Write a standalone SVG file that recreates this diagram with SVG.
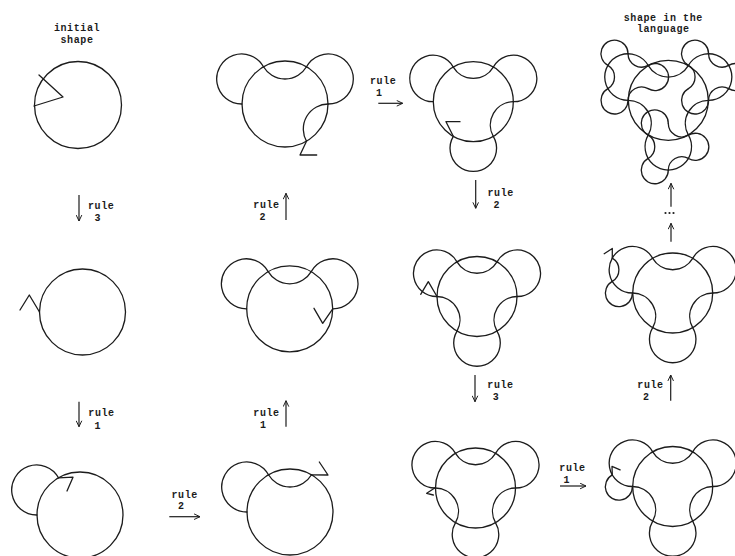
<svg xmlns="http://www.w3.org/2000/svg" width="735" height="556" viewBox="0 0 735 556">
<style>
.s{fill:none;stroke:#1c1c1c;stroke-width:1.3;stroke-linejoin:round;stroke-linecap:round}
.a{fill:none;stroke:#1c1c1c;stroke-width:1.2}
.t{font-family:"Liberation Mono","DejaVu Sans Mono",monospace;font-size:10px;letter-spacing:0.6px;font-weight:bold;fill:#1c1c1c;stroke:none}
.c{text-anchor:middle}
</style>
<defs>
<path id="ear" d="M21.5,-37.239 A25.004,25.004 0 1 0 -21.5,-37.239" vector-effect="non-scaling-stroke"/>
<path id="dip" d="M21.5,-37.239 A25.004,25.004 0 0 1 -21.5,-37.239" vector-effect="non-scaling-stroke"/>
<circle id="mc" r="43" vector-effect="non-scaling-stroke"/>
<marker id="ah" viewBox="0 0 10 10" refX="9.5" refY="5" markerWidth="7" markerHeight="7" orient="auto" markerUnits="userSpaceOnUse">
<path d="M1,1 L9.5,5 L1,9" fill="none" stroke="#1c1c1c" stroke-width="1.4"/>
</marker>
</defs>
<rect width="735" height="556" fill="#fff"/>

<text class="t c" x="77" y="31">initial</text>
<text class="t c" x="77" y="42.5">shape</text>
<text class="t c" x="663.3" y="21">shape in the</text>
<text class="t c" x="663.3" y="32">language</text>

<g id="n1" class="s">
<circle cx="78" cy="105" r="43.5"/>
<polyline points="39,75 63,97 34,106"/>
</g>
<g id="n2" class="s">
<circle cx="82.5" cy="312" r="43"/>
<polyline points="20,310 29.3,295 39.5,312"/>
</g>
<g id="n3" class="s">
<g transform="translate(80,515)"><use href="#mc"/><use href="#ear" transform="rotate(-60)"/></g>
<polyline points="58.5,477.8 73,477.2 67,491"/>
</g>
<g id="n4" class="s">
<g transform="translate(290,512)"><use href="#mc"/><use href="#ear" transform="rotate(-60)"/><use href="#dip"/></g>
<polyline points="319.3,462 328,475 311.5,474.8"/>
</g>
<g id="n5" class="s">
<g transform="translate(289.7,308.8)"><use href="#mc"/><use href="#ear" transform="rotate(-60)"/><use href="#dip"/><use href="#ear" transform="rotate(60)"/></g>
<polyline points="332.7,308.8 322.7,323.3 314,308.3"/>
</g>
<g id="n6" class="s">
<g transform="translate(285,104)"><use href="#mc"/><use href="#ear" transform="rotate(-60)"/><use href="#dip"/><use href="#ear" transform="rotate(60)"/><use href="#dip" transform="rotate(120)"/></g>
<polyline points="306.5,141.2 300,155 316.7,155"/>
</g>
<g id="n7" class="s">
<g transform="translate(473.3,101.7) scale(0.9302)"><use href="#mc"/><use href="#ear" transform="rotate(-60)"/><use href="#dip"/><use href="#ear" transform="rotate(60)"/><use href="#dip" transform="rotate(120)"/><use href="#ear" transform="rotate(180)"/></g>
<polyline points="453.3,136.3 446,121.7 460,121.7"/>
</g>
<g id="n8" class="s">
<g transform="translate(477,296.5) scale(0.9302)"><use href="#mc"/><use href="#ear" transform="rotate(-60)"/><use href="#dip"/><use href="#ear" transform="rotate(60)"/><use href="#dip" transform="rotate(120)"/><use href="#ear" transform="rotate(180)"/><use href="#dip" transform="rotate(-120)"/></g>
<polyline points="437,296.5 428.3,281.7 420.7,294.3"/>
</g>
<g id="n9" class="s">
<g transform="translate(475.5,488) scale(0.9302)"><use href="#mc"/><use href="#ear" transform="rotate(-60)"/><use href="#dip"/><use href="#ear" transform="rotate(60)"/><use href="#dip" transform="rotate(120)"/><use href="#ear" transform="rotate(180)"/><use href="#dip" transform="rotate(-120)"/></g>
<polyline points="435.5,487.5 426.7,493.3 433.3,495"/>
</g>
<g id="n10" class="s">
<g transform="translate(672.7,486.5) scale(0.9302)"><use href="#mc"/><use href="#ear" transform="rotate(-60)"/><use href="#dip"/><use href="#ear" transform="rotate(60)"/><use href="#dip" transform="rotate(120)"/><use href="#ear" transform="rotate(180)"/><use href="#dip" transform="rotate(-120)"/>
<use href="#ear" transform="translate(-43.301,-25) scale(0.5814) rotate(-150)"/></g>
<polyline points="612.3,474.9 612,466.4 620.1,469.9"/>
</g>
<g id="n11" class="s">
<g transform="translate(672.7,293) scale(0.9302)"><use href="#mc"/><use href="#ear" transform="rotate(-60)"/><use href="#dip"/><use href="#ear" transform="rotate(60)"/><use href="#dip" transform="rotate(120)"/><use href="#ear" transform="rotate(180)"/><use href="#dip" transform="rotate(-120)"/>
<use href="#ear" transform="translate(-43.301,-25) scale(0.5814) rotate(-150)"/><use href="#dip" transform="translate(-43.301,-25) scale(0.5814) rotate(-90)"/></g>
<polyline points="612.3,258.1 612.3,248.5 604.2,253.7"/>
</g>
<g id="n12" class="s">
<g transform="translate(668.3,100.3) scale(0.9302)"><use href="#mc"/><use href="#ear" transform="rotate(-60)"/><use href="#dip"/><use href="#ear" transform="rotate(60)"/><use href="#dip" transform="rotate(120)"/><use href="#ear" transform="rotate(180)"/><use href="#dip" transform="rotate(-120)"/>
<g transform="translate(-43.301,-25) scale(0.5814)"><use href="#ear" transform="rotate(90)"/><use href="#ear" transform="rotate(-30)"/><use href="#ear" transform="rotate(-150)"/><use href="#dip" transform="rotate(30)"/><use href="#dip" transform="rotate(-90)"/><use href="#dip" transform="rotate(150)"/></g>
<g transform="translate(43.301,-25) scale(0.5814)"><use href="#ear" transform="rotate(90)"/><use href="#ear" transform="rotate(-30)"/><use href="#ear" transform="rotate(-150)"/><use href="#dip" transform="rotate(30)"/><use href="#dip" transform="rotate(-90)"/><use href="#dip" transform="rotate(150)"/></g>
<g transform="translate(0,50) scale(0.5814)"><use href="#ear" transform="rotate(90)"/><use href="#ear" transform="rotate(-30)"/><use href="#ear" transform="rotate(-150)"/><use href="#dip" transform="rotate(30)"/><use href="#dip" transform="rotate(-90)"/><use href="#dip" transform="rotate(150)"/></g>
</g>
</g>

<g id="connectors" class="a">
<line x1="79" y1="195" x2="79" y2="221" marker-end="url(#ah)"/>
<line x1="79" y1="401.7" x2="79" y2="426.7" marker-end="url(#ah)"/>
<line x1="169.3" y1="516.7" x2="200" y2="516.7" marker-end="url(#ah)"/>
<line x1="286" y1="426.7" x2="286" y2="400.7" marker-end="url(#ah)"/>
<line x1="286" y1="220" x2="286" y2="193.3" marker-end="url(#ah)"/>
<line x1="378.3" y1="103.3" x2="402.7" y2="103.3" marker-end="url(#ah)"/>
<line x1="475.7" y1="180" x2="475.7" y2="208.3" marker-end="url(#ah)"/>
<line x1="475" y1="375" x2="475" y2="401.7" marker-end="url(#ah)"/>
<line x1="560" y1="486" x2="586" y2="486" marker-end="url(#ah)"/>
<line x1="670.7" y1="400.7" x2="670.7" y2="375" marker-end="url(#ah)"/>
<line x1="671" y1="241.7" x2="671" y2="223.3" marker-end="url(#ah)"/>
<line x1="671" y1="206.7" x2="671" y2="183.3" marker-end="url(#ah)"/>
<g fill="#1c1c1c" stroke="none"><circle cx="665.5" cy="213" r="1.1"/><circle cx="669.5" cy="213" r="1.1"/><circle cx="673.5" cy="213" r="1.1"/></g>
<text class="t" x="88" y="208.5">rule</text><text class="t" x="94.5" y="220.5">3</text>
<text class="t" x="88.3" y="416">rule</text><text class="t" x="94.5" y="428.5">1</text>
<text class="t" x="171.5" y="497.5">rule</text><text class="t" x="178" y="509">2</text>
<text class="t" x="253.3" y="416">rule</text><text class="t" x="260" y="428.3">1</text>
<text class="t" x="253.3" y="208">rule</text><text class="t" x="259.5" y="220">2</text>
<text class="t" x="370" y="84">rule</text><text class="t" x="376" y="95.5">1</text>
<text class="t" x="487.5" y="196">rule</text><text class="t" x="493.5" y="207.5">2</text>
<text class="t" x="487.3" y="388">rule</text><text class="t" x="492.7" y="399.5">3</text>
<text class="t" x="559.3" y="471">rule</text><text class="t" x="563.5" y="482.5">1</text>
<text class="t" x="637.3" y="388">rule</text><text class="t" x="643" y="399.5">2</text>
</g>
</svg>
